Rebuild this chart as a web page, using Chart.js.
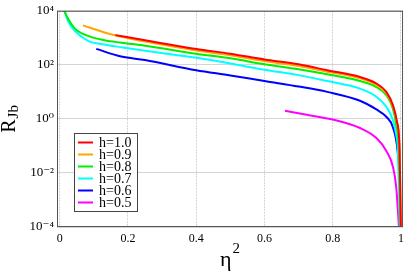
<!DOCTYPE html>
<html>
<head>
<meta charset="utf-8">
<script src="https://cdn.jsdelivr.net/npm/chart.js@4.4.1/dist/chart.umd.min.js"></script>
<style>
  html, body { margin: 0; padding: 0; background: #fff; }
  canvas { display: block; }
</style>
</head>
<body>
<canvas id="rjbChart" width="409" height="273"></canvas>
<script>
// values (x = eta^2, y = R_Jb)
const seriesLabels = ['h=1.0', 'h=0.9', 'h=0.8', 'h=0.7', 'h=0.6', 'h=0.5'];
const seriesColors = ['#ff0000', '#ffa500', '#00ee00', '#00ffff', '#0000ff', '#ff00ff'];

const xH10 = [0.163, 0.25, 0.4, 0.5, 0.6, 0.7, 0.784, 0.88, 0.928, 0.957, 0.976, 0.988, 0.996, 0.9995];
const yH10 = [1260, 813, 389, 257, 158, 105, 63, 35.5, 20.4, 10, 3.3, 0.81, 0.065, 0.0001];

const xH09 = [0.068, 0.131, 0.18, 0.25, 0.4, 0.5, 0.6, 0.7, 0.784, 0.88, 0.928, 0.957, 0.976, 0.988, 0.996, 0.9995];
const yH09 = [2880, 1580, 1100, 724, 339, 224, 138, 91, 56, 31.6, 18.2, 8.9, 2.95, 0.74, 0.063, 0.0001];

const xH08 = [0.013, 0.025, 0.044, 0.083, 0.131, 0.18, 0.25, 0.4, 0.5, 0.6, 0.7, 0.784, 0.88, 0.928, 0.957, 0.976, 0.986, 0.994, 0.999];
const yH08 = [10000, 5000, 2240, 1175, 813, 661, 513, 257, 174, 105, 69, 44.7, 25.1, 15.1, 7.6, 2.45, 0.6, 0.065, 0.0001];

const xH07 = [0.014, 0.025, 0.044, 0.083, 0.131, 0.18, 0.25, 0.4, 0.5, 0.6, 0.7, 0.784, 0.88, 0.928, 0.957, 0.976, 0.986, 0.991, 0.9965];
const yH07 = [10000, 3980, 1820, 776, 562, 447, 331, 182, 112, 66, 41.7, 25.1, 13.2, 6.6, 2.82, 0.93, 0.26, 0.065, 0.0001];

const xH06 = [0.107, 0.18, 0.25, 0.4, 0.5, 0.6, 0.7, 0.784, 0.88, 0.928, 0.957, 0.976, 0.99, 0.996, 0.998];
const yH06 = [389, 204, 151, 63, 40.7, 25.1, 15.8, 10, 4.7, 2.24, 1.2, 0.5, 0.065, 0.004, 0.0001];

const xH05 = [0.66, 0.72, 0.803, 0.88, 0.928, 0.957, 0.977, 0.986, 0.991, 0.994];
const yH05 = [2.0, 1.45, 0.93, 0.46, 0.195, 0.065, 0.0158, 0.003, 0.0004, 0.0001];

const xTickValues = [0, 0.2, 0.4, 0.6, 0.8, 1];
const xTickLabels = ['0', '0.2', '0.4', '0.6', '0.8', '1'];
const yTickValues = [1e-4, 1e-2, 1, 1e2, 1e4];
const yTickLabels = ['10\u207B\u2074', '10\u207B\u00B2', '10\u2070', '10\u00B2', '10\u2074'];

const seriesX = [xH10, xH09, xH08, xH07, xH06, xH05];
const seriesY = [yH10, yH09, yH08, yH07, yH06, yH05];

const serif = '"Liberation Serif", "DejaVu Serif", serif';

const datasets = seriesLabels.map((label, i) => ({
    label: label,
    data: seriesX[i].map((x, j) => ({ x: x, y: seriesY[i][j] })),
    borderColor: seriesColors[i],
    backgroundColor: seriesColors[i],
    borderWidth: 2,
    pointRadius: 0,
    showLine: true,
    fill: false,
    cubicInterpolationMode: 'monotone'
}));

// frame, axis titles and the boxed legend
const decorations = {
    id: 'decorations',
    afterDraw(chart) {
        const ctx = chart.ctx;
        const area = chart.chartArea;
        ctx.save();

        ctx.strokeStyle = '#555';
        ctx.lineWidth = 1;
        ctx.strokeRect(area.left + 0.5, area.top + 0.5, area.right - area.left - 1, area.bottom - area.top - 1);

        // x title: eta^2
        ctx.fillStyle = '#000';
        ctx.textBaseline = 'alphabetic';
        ctx.textAlign = 'left';
        ctx.font = '22px ' + serif;
        const wEta = ctx.measureText('\u03B7').width;
        ctx.font = '15px ' + serif;
        const wSup = ctx.measureText('2').width;
        const cx = (area.left + area.right) / 2;
        let sx = cx - (wEta + wSup + 1) / 2;
        ctx.font = '22px ' + serif;
        ctx.fillText('\u03B7', sx, 266);
        ctx.font = '15px ' + serif;
        ctx.fillText('2', sx + wEta + 1, 253);

        // y title: R_Jb
        ctx.save();
        const cy = (area.top + area.bottom) / 2;
        ctx.translate(15, cy);
        ctx.rotate(-Math.PI / 2);
        ctx.font = '20px ' + serif;
        const wR = ctx.measureText('R').width;
        ctx.font = '15px ' + serif;
        const wJb = ctx.measureText('Jb').width;
        const start = -(wR + wJb + 1) / 2;
        ctx.font = '20px ' + serif;
        ctx.fillText('R', start, 0);
        ctx.font = '15px ' + serif;
        ctx.fillText('Jb', start + wR + 1, 3);
        ctx.restore();

        // legend box
        const bx = 74, by = 133, bw = 63, bh = 78;
        ctx.fillStyle = '#fff';
        ctx.fillRect(bx, by, bw, bh);
        ctx.strokeStyle = '#444';
        ctx.lineWidth = 1;
        ctx.strokeRect(bx + 0.5, by + 0.5, bw, bh);
        ctx.font = '14px ' + serif;
        ctx.textBaseline = 'middle';
        chart.data.datasets.forEach((ds, i) => {
            const ry = 142.5 + i * 12;
            ctx.strokeStyle = ds.borderColor;
            ctx.lineWidth = 2;
            ctx.beginPath();
            ctx.moveTo(78, ry);
            ctx.lineTo(93, ry);
            ctx.stroke();
            ctx.fillStyle = '#000';
            ctx.fillText(ds.label, 99, ry + 1);
        });

        ctx.restore();
    }
};

new Chart(document.getElementById('rjbChart').getContext('2d'), {
    type: 'scatter',
    data: { datasets: datasets },
    options: {
        responsive: false,
        animation: false,
        layout: { padding: { top: 8, right: 2, left: 0, bottom: 0 } },
        plugins: {
            legend: { display: false },
            tooltip: { enabled: false }
        },
        scales: {
            x: {
                type: 'linear',
                min: -0.008,
                max: 1.006,
                afterBuildTicks: (scale) => {
                    scale.ticks = xTickValues.map(v => ({ value: v }));
                },
                afterFit: (scale) => { scale.height = 46; },
                ticks: {
                    color: '#000',
                    padding: 5,
                    maxRotation: 0,
                    font: { family: serif, size: 12 },
                    callback: (value) => {
                        const k = xTickValues.indexOf(value);
                        return k >= 0 ? xTickLabels[k] : '';
                    }
                },
                grid: {
                    color: 'rgba(0,0,0,0.17)',
                    lineWidth: 1,
                    drawTicks: false,
                    tickLength: 0
                },
                border: { display: false, dash: [2, 1] }
            },
            y: {
                type: 'logarithmic',
                min: 1e-4,
                max: 1e4,
                afterBuildTicks: (scale) => {
                    scale.ticks = yTickValues.map(v => ({ value: v }));
                },
                afterFit: (scale) => { scale.width = 57; },
                ticks: {
                    color: '#000',
                    padding: 3,
                    font: { family: serif, size: 13 },
                    callback: (value) => {
                        const k = yTickValues.findIndex(v => Math.abs(v - value) / v < 1e-6);
                        return k >= 0 ? yTickLabels[k] : '';
                    }
                },
                grid: {
                    color: 'rgba(0,0,0,0.17)',
                    lineWidth: 1,
                    drawTicks: false,
                    tickLength: 0
                },
                border: { display: false }
            }
        }
    },
    plugins: [decorations]
});
</script>
</body>
</html>
